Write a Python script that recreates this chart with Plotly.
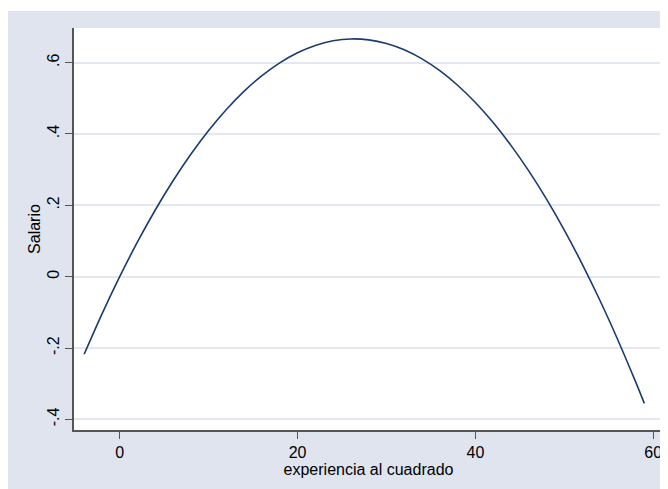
import plotly.graph_objects as go

# Data
experiencia = [-4, -2, 0, 2, 4, 6, 8, 10, 12, 14, 16, 18, 20, 22, 24, 26, 28, 30,
               32, 34, 36, 38, 40, 42, 44, 46, 48, 50, 52, 54, 56, 58, 59]
salario = [-0.2176, -0.1050, 0.0000, 0.0973, 0.1869, 0.2688, 0.3431, 0.4097,
           0.4686, 0.5199, 0.5635, 0.5994, 0.6276, 0.6482, 0.6611, 0.6663,
           0.6638, 0.6537, 0.6359, 0.6104, 0.5773, 0.5365, 0.4880, 0.4318,
           0.3680, 0.2965, 0.2173, 0.1305, 0.0360, -0.0662, -0.1761, -0.2936,
           -0.3552]
x_ticks = [0, 20, 40, 60]
y_ticks = [-0.4, -0.2, 0, 0.2, 0.4, 0.6]
y_tick_labels = ["-.4", "-.2", "0", ".2", ".4", ".6"]

BG = "#dfe4ef"
GRID = "#e2e7f1"
AXIS = "#555555"
FONT = "Liberation Sans, Arial, sans-serif"

fig = go.Figure()
fig.add_trace(go.Scatter(x=experiencia, y=salario, mode="lines",
                         line=dict(color="#1a3b6e", width=1.6, shape="spline"),
                         showlegend=False, hoverinfo="skip"))

W, H = 660, 481
L, R, T, B = 66, 5, 20, 59
pw, ph = W - L - R, H - T - B

def px_x(p):
    return (p - L) / pw

def px_y(p):
    return (H - B - p) / ph

fig.update_layout(
    width=W, height=H,
    margin=dict(l=L, r=R, t=T, b=B),
    paper_bgcolor=BG, plot_bgcolor="white",
    font=dict(family=FONT, size=16, color="black"),
    shapes=[
        dict(type="rect", xref="paper", yref="paper", x0=px_x(-5), x1=px_x(W + 5),
             y0=px_y(3), y1=px_y(-5), fillcolor="white", line=dict(width=0)),
    ],
)
fig.update_xaxes(range=[-5.14, 61.1], tickvals=x_ticks, ticks="outside", ticklen=7,
                 tickwidth=1.3, tickcolor=AXIS, showline=True, linecolor=AXIS,
                 linewidth=1.6, showgrid=False, zeroline=False,
                 tickfont=dict(size=16),
                 title=dict(text="experiencia al cuadrado", font=dict(size=16), standoff=0))
fig.update_yaxes(range=[-0.4298, 0.697], tickvals=y_ticks, ticktext=y_tick_labels,
                 tickangle=-90, ticks="outside", ticklen=7, tickwidth=1.3,
                 tickcolor=AXIS, showline=True, linecolor=AXIS, linewidth=1.6,
                 showgrid=True, gridcolor=GRID, gridwidth=1.5, zeroline=False,
                 tickfont=dict(size=16),
                 title=dict(text="Salario", font=dict(size=16), standoff=0))

fig.write_html("out.html")
